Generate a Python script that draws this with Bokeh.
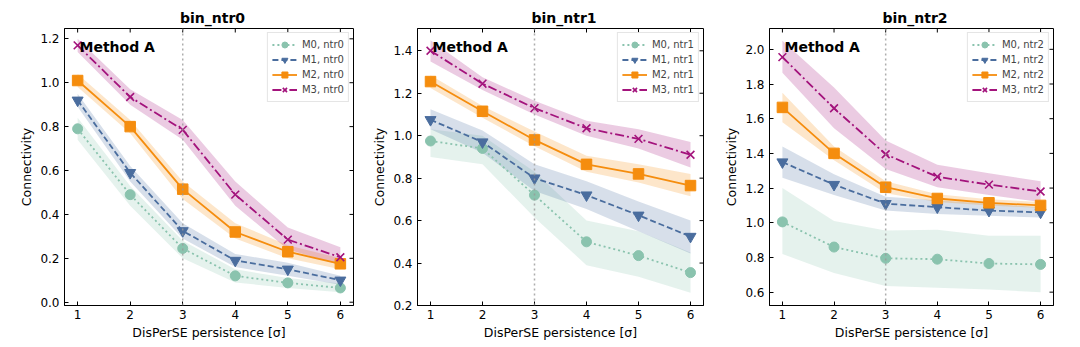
import math
from bokeh.plotting import figure
from bokeh.layouts import row
from bokeh.models import Range1d, FixedTicker, Label, Span, NumeralTickFormatter
from bokeh.embed import file_html
from bokeh.resources import INLINE

persistence = [1, 2, 3, 4, 5, 6]
panel_titles = ["bin_ntr0", "bin_ntr1", "bin_ntr2"]
panel_tags = ["ntr0", "ntr1", "ntr2"]
model_names = ["M0", "M1", "M2", "M3"]

# ---- bin_ntr0 ----
ntr0_m0 = [0.79, 0.49, 0.245, 0.12, 0.088, 0.065]
ntr0_m0_lo = [0.74, 0.44, 0.20, 0.09, 0.065, 0.045]
ntr0_m0_hi = [0.84, 0.53, 0.28, 0.15, 0.11, 0.085]
ntr0_m1 = [0.92, 0.59, 0.325, 0.19, 0.15, 0.10]
ntr0_m1_lo = [0.89, 0.55, 0.29, 0.16, 0.12, 0.08]
ntr0_m1_hi = [0.95, 0.62, 0.36, 0.22, 0.18, 0.12]
ntr0_m2 = [1.01, 0.80, 0.515, 0.32, 0.23, 0.175]
ntr0_m2_lo = [0.98, 0.77, 0.47, 0.29, 0.20, 0.15]
ntr0_m2_hi = [1.04, 0.83, 0.55, 0.36, 0.26, 0.20]
ntr0_m3 = [1.17, 0.935, 0.785, 0.49, 0.285, 0.205]
ntr0_m3_lo = [1.14, 0.90, 0.74, 0.44, 0.24, 0.17]
ntr0_m3_hi = [1.20, 0.97, 0.83, 0.55, 0.34, 0.25]

# ---- bin_ntr1 ----
ntr1_m0 = [0.975, 0.94, 0.72, 0.50, 0.435, 0.355]
ntr1_m0_lo = [0.90, 0.865, 0.615, 0.39, 0.335, 0.26]
ntr1_m0_hi = [1.03, 1.00, 0.83, 0.60, 0.55, 0.45]
ntr1_m1 = [1.075, 0.97, 0.80, 0.72, 0.625, 0.525]
ntr1_m1_lo = [1.03, 0.92, 0.74, 0.655, 0.55, 0.445]
ntr1_m1_hi = [1.125, 1.025, 0.865, 0.785, 0.69, 0.60]
ntr1_m2 = [1.255, 1.115, 0.98, 0.865, 0.82, 0.765]
ntr1_m2_lo = [1.225, 1.085, 0.95, 0.83, 0.78, 0.715]
ntr1_m2_hi = [1.285, 1.14, 1.02, 0.905, 0.865, 0.82]
ntr1_m3 = [1.40, 1.245, 1.13, 1.035, 0.985, 0.91]
ntr1_m3_lo = [1.35, 1.215, 1.10, 1.00, 0.94, 0.85]
ntr1_m3_hi = [1.45, 1.275, 1.165, 1.07, 1.03, 0.97]

# ---- bin_ntr2 ----
ntr2_m0 = [1.005, 0.86, 0.795, 0.79, 0.765, 0.76]
ntr2_m0_lo = [0.82, 0.71, 0.635, 0.625, 0.615, 0.60]
ntr2_m0_hi = [1.20, 1.01, 0.955, 0.96, 0.925, 0.925]
ntr2_m1 = [1.35, 1.22, 1.11, 1.09, 1.07, 1.06]
ntr2_m1_lo = [1.26, 1.16, 1.07, 1.05, 1.04, 1.03]
ntr2_m1_hi = [1.44, 1.28, 1.15, 1.13, 1.11, 1.09]
ntr2_m2 = [1.665, 1.40, 1.205, 1.14, 1.115, 1.10]
ntr2_m2_lo = [1.58, 1.36, 1.17, 1.12, 1.10, 1.085]
ntr2_m2_hi = [1.75, 1.44, 1.24, 1.165, 1.135, 1.12]
ntr2_m3 = [1.955, 1.66, 1.395, 1.265, 1.22, 1.18]
ntr2_m3_lo = [1.865, 1.545, 1.31, 1.205, 1.16, 1.12]
ntr2_m3_hi = [2.05, 1.78, 1.475, 1.335, 1.285, 1.24]

panel_data = [
    [(ntr0_m0, ntr0_m0_lo, ntr0_m0_hi), (ntr0_m1, ntr0_m1_lo, ntr0_m1_hi),
     (ntr0_m2, ntr0_m2_lo, ntr0_m2_hi), (ntr0_m3, ntr0_m3_lo, ntr0_m3_hi)],
    [(ntr1_m0, ntr1_m0_lo, ntr1_m0_hi), (ntr1_m1, ntr1_m1_lo, ntr1_m1_hi),
     (ntr1_m2, ntr1_m2_lo, ntr1_m2_hi), (ntr1_m3, ntr1_m3_lo, ntr1_m3_hi)],
    [(ntr2_m0, ntr2_m0_lo, ntr2_m0_hi), (ntr2_m1, ntr2_m1_lo, ntr2_m1_hi),
     (ntr2_m2, ntr2_m2_lo, ntr2_m2_hi), (ntr2_m3, ntr2_m3_lo, ntr2_m3_hi)],
]

x_range_lim = (0.75, 6.25)
y_ranges = [(-0.015, 1.247), (0.2, 1.505), (0.523, 2.12)]
y_ticks = [[0.0, 0.2, 0.4, 0.6, 0.8, 1.0, 1.2],
           [0.2, 0.4, 0.6, 0.8, 1.0, 1.2, 1.4],
           [0.6, 0.8, 1.0, 1.2, 1.4, 1.6, 1.8, 2.0]]

colors = ["#8ac3ae", "#4a6d9e", "#f58d0e", "#a3137c"]
dashes = ["2 3", "6 3", "solid", "9 3 2 3"]
markers = ["circle", "inverted_triangle", "square", "x"]
msizes = [10, 11, 10.5, 11]

fig_widths = [363, 355, 360]
borders_lr = [(64, 10), (54, 15), (51, 25)]
FIG_H = 345
B_TOP, B_BOT = 28, 40
TITLE_HALF_W = 29  # half width of the bold title text

FONT = "DejaVu Sans"
figs = []
for i in range(3):
    frame_w = fig_widths[i] - borders_lr[i][0] - borders_lr[i][1]
    frame_h = FIG_H - B_TOP - B_BOT
    p = figure(width=fig_widths[i], height=FIG_H, output_backend="svg", toolbar_location=None,
               x_range=Range1d(*x_range_lim), y_range=Range1d(*y_ranges[i]),
               min_border_left=borders_lr[i][0], min_border_right=borders_lr[i][1],
               min_border_top=B_TOP, min_border_bottom=B_BOT)
    p.title.text = panel_titles[i]
    p.title.align = "left"
    p.title.offset = frame_w / 2 - TITLE_HALF_W
    p.title.text_font = FONT
    p.title.text_font_size = "14px"
    p.title.text_font_style = "bold"
    p.title.text_color = "black"
    p.title.standoff = 6
    p.grid.visible = False
    p.outline_line_color = "black"
    p.outline_line_width = 1
    p.background_fill_color = "white"
    p.border_fill_color = "white"

    for ax in [p.xaxis[0], p.yaxis[0]]:
        ax.major_tick_in = 4
        ax.major_tick_out = 0
        ax.minor_tick_in = 0
        ax.minor_tick_out = 0
        ax.axis_line_color = "black"
        ax.major_label_text_font = FONT
        ax.major_label_text_font_size = "12px"
        ax.major_label_text_color = "black"
        ax.axis_label_text_font = FONT
        ax.axis_label_text_font_size = "12.5px"
        ax.axis_label_text_font_style = "normal"
        ax.axis_label_text_color = "black"
    p.xaxis.ticker = FixedTicker(ticks=persistence)
    p.yaxis.ticker = FixedTicker(ticks=y_ticks[i])
    p.yaxis.formatter = NumeralTickFormatter(format="0.0")
    p.xaxis.axis_label = "DisPerSE persistence [σ]"
    p.yaxis.axis_label = "Connectivity"
    p.xaxis.major_label_standoff = 4
    p.xaxis.axis_label_standoff = 3
    p.yaxis.major_label_standoff = 5
    p.yaxis.axis_label_standoff = 3

    # inward tick marks on the top and right frame edges (clipped to the frame)
    p.scatter(x=persistence, y=[y_ranges[i][1]] * len(persistence), marker="dash",
              angle=math.pi / 2, size=8, line_color="black", line_width=1)
    p.scatter(x=[x_range_lim[1]] * len(y_ticks[i]), y=y_ticks[i], marker="dash",
              size=8, line_color="black", line_width=1)

    p.add_layout(Span(location=3, dimension="height", line_color="#999999",
                      line_dash="2 3", line_width=1.5, line_alpha=0.8))

    for k in range(4):
        mean, lo, hi = panel_data[i][k]
        p.varea(x=persistence, y1=lo, y2=hi, fill_color=colors[k], fill_alpha=0.22)
    for k in range(4):
        mean, lo, hi = panel_data[i][k]
        lab = f"{model_names[k]}, {panel_tags[i]}"
        p.line(persistence, mean, line_color=colors[k], line_width=1.8,
               line_dash=dashes[k], legend_label=lab)
        if markers[k] == "x":
            p.scatter(persistence, mean, marker="x", size=msizes[k], line_color=colors[k],
                      line_width=1.6, legend_label=lab)
        else:
            p.scatter(persistence, mean, marker=markers[k], size=msizes[k],
                      fill_color=colors[k], line_color=colors[k], legend_label=lab)

    lg = p.legend[0]
    lg.location = "top_right"
    lg.label_text_font = FONT
    lg.label_text_font_size = "10px"
    lg.glyph_width = 25
    lg.glyph_height = 15
    lg.label_height = 15
    lg.spacing = 0
    lg.padding = 4
    lg.margin = 4
    lg.label_standoff = 5
    lg.border_line_color = "#cccccc"
    lg.border_line_width = 1
    lg.background_fill_alpha = 0.8

    p.add_layout(Label(x=15, y=frame_h - 18, x_units="screen", y_units="screen",
                       text="Method A", text_font=FONT, text_font_size="14px",
                       text_font_style="bold", text_baseline="middle", text_color="black"))
    figs.append(p)

layout = row(*figs, spacing=0)
open("out.html", "w").write(file_html(layout, INLINE))
